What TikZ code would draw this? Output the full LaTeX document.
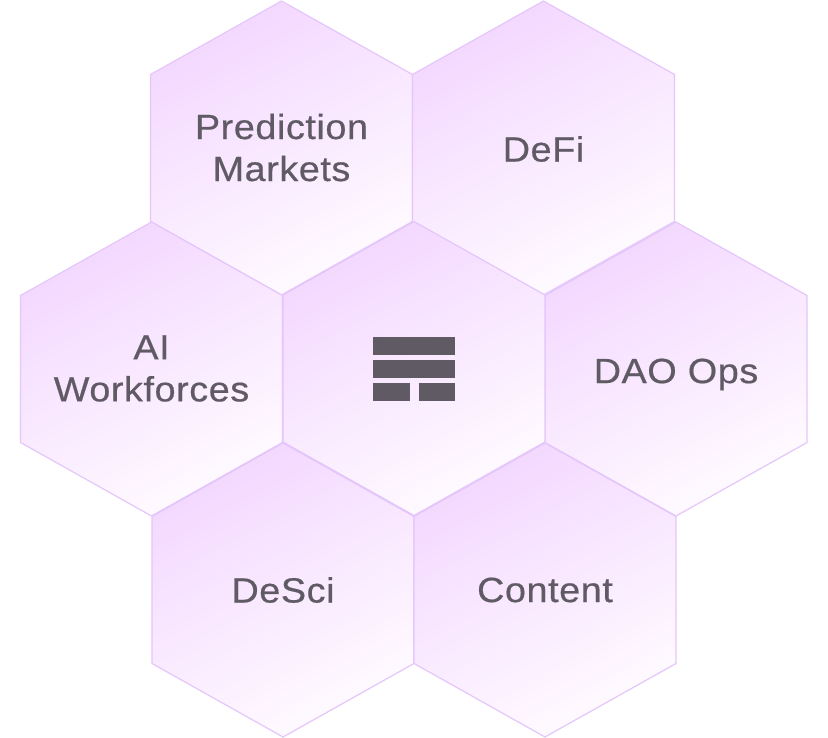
\documentclass[tikz,border=0pt]{standalone}
\usepackage{fontspec}
\setmainfont[FakeStretch=1.08,LetterSpace=1.6,FakeBold=0.5]{Liberation Sans}
\definecolor{hexedge}{HTML}{E4C6FA}
\definecolor{hextop}{HTML}{F3D7FF}
\definecolor{hexbot}{HTML}{FFFBFF}
\definecolor{ink}{HTML}{605A64}
\tikzset{
  hexcell/.style={draw=hexedge,line width=1.2pt,line join=miter,top color=hextop,bottom color=hexbot,shading angle=28},
  hexlabel/.style={text=ink,align=center,font=\fontsize{35}{42}\selectfont,inner sep=0pt},
  iconbar/.style={fill=ink,draw=none}
}
\newcommand{\hexcellat}[2]{%
  \path[hexcell] (#1-131,#2-73.5) -- (#1,#2-147) -- (#1+131,#2-73.5) -- (#1+131,#2+73.5) -- (#1,#2+147) -- (#1-131,#2+73.5) -- cycle;}
\begin{document}
\begin{tikzpicture}[x=1pt,y=-1pt]
\useasboundingbox (0,0) rectangle (828,738);
\hexcellat{281.5}{148}
\hexcellat{543.5}{148}
\hexcellat{151.5}{369}
\hexcellat{676}{369}
\hexcellat{414}{368.5}
\hexcellat{283}{590}
\hexcellat{545}{590}
\node[hexlabel] (prediction) at (281.5,147.5) {Prediction\\Markets};
\node[hexlabel] (defi) at (543.5,149) {DeFi};
\node[hexlabel] (ai) at (151.5,368.5) {AI\\Workforces};
\node[hexlabel] (dao) at (676,374.5) {DAO Ops};
\node[hexlabel] (desci) at (283,590) {DeSci};
\node[hexlabel] (content) at (545,590) {Content};
\fill[iconbar] (373,337) rectangle (455,354.5);
\fill[iconbar] (373,360) rectangle (455,378);
\fill[iconbar] (373,383) rectangle (409.5,401);
\fill[iconbar] (418.5,383) rectangle (455,401);
\end{tikzpicture}
\end{document}
